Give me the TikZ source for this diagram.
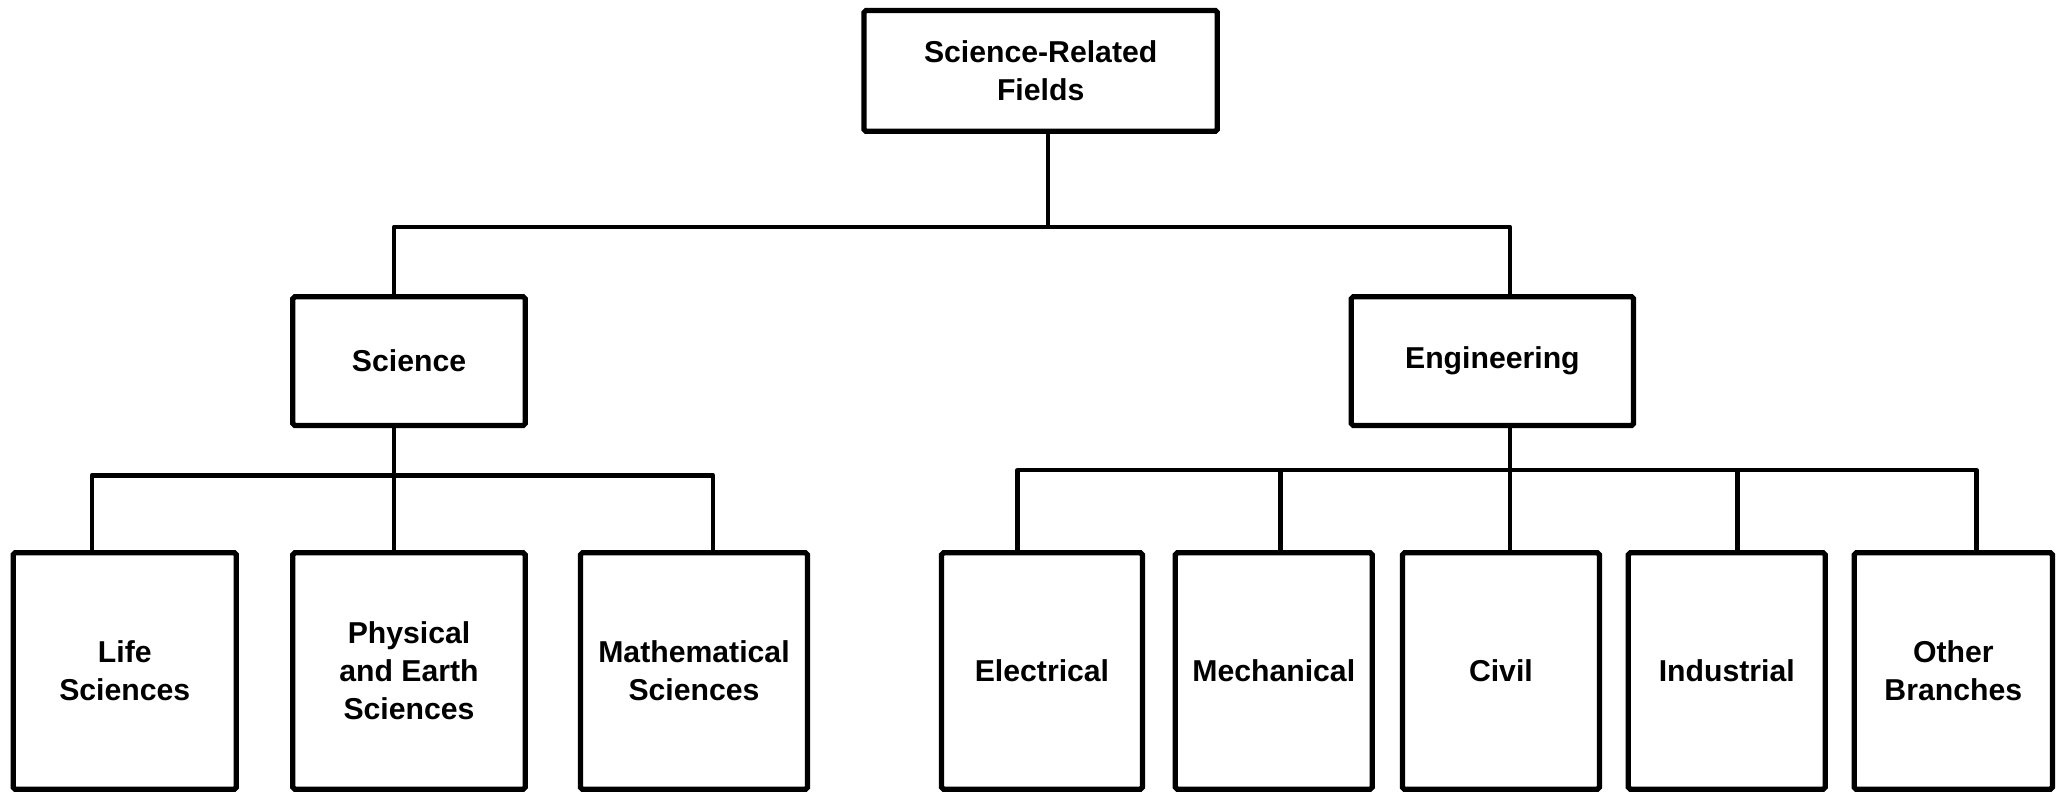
\documentclass[tikz,border=0pt]{standalone}
\usepackage{fontspec}
\setmainfont{Liberation Sans}
\begin{document}
\begin{tikzpicture}[x=1pt,y=1pt,
  box/.style={draw=black, line width=4pt, rounded corners=1.5pt, fill=white,
    inner sep=0pt, align=center,
    font=\bfseries\fontsize{23}{29}\selectfont},
  conn/.style={draw=black, line width=3.5pt, line join=round}]
\useasboundingbox (0,0) rectangle (1568,-605);
\fill[white] (0,0) rectangle (1568,-605);
% top level
\node[box, minimum width=269pt, minimum height=92pt] (top) at (792.5,-54) {Science-Related\\Fields};
% second level
\node[box, minimum width=177pt, minimum height=98pt] (science) at (311.5,-275) {Science};
\node[box, minimum width=215pt, minimum height=98pt] (engineering) at (1136.5,-275) {Engineering};
% third level
\node[box, minimum width=170pt, minimum height=180pt] (life) at (95,-511) {Life\\Sciences};
\node[box, minimum width=177pt, minimum height=180pt] (phys) at (311.5,-511) {Physical\\and Earth\\Sciences};
\node[box, minimum width=173pt, minimum height=180pt] (math) at (528.5,-511) {Mathematical\\Sciences};
\node[box, minimum width=153pt, minimum height=180pt] (elec) at (793.5,-511) {Electrical};
\node[box, minimum width=150pt, minimum height=180pt] (mech) at (970,-511) {Mechanical};
\node[box, minimum width=150pt, minimum height=180pt] (civil) at (1143,-511) {Civil};
\node[box, minimum width=150pt, minimum height=180pt] (indus) at (1315,-511) {Industrial};
\node[box, minimum width=151pt, minimum height=180pt] (other) at (1487.5,-511) {Other\\Branches};
% bus junctions
\coordinate (tM) at (798,-173);
\coordinate (tL) at (300,-173);
\coordinate (tR) at (1150,-173);
\coordinate (s1) at (70,-362);
\coordinate (s2) at (300,-362);
\coordinate (s3) at (543,-362);
\coordinate (e1) at (775,-358);
\coordinate (e2) at (975,-358);
\coordinate (e3) at (1150,-358);
\coordinate (e4) at (1323,-358);
\coordinate (e5) at (1505,-358);
% connectors
\draw[conn] (top.south -| tM) -- (tM);
\draw[conn] (science.north -| tL) -- (tL) -- (tR) -- (engineering.north -| tR);
\draw[conn] (life.north -| s1) -- (s1) -- (s3) -- (math.north -| s3);
\draw[conn] (science.south -| s2) -- (phys.north -| s2);
\draw[conn] (elec.north -| e1) -- (e1) -- (e5) -- (other.north -| e5);
\draw[conn] (engineering.south -| e3) -- (civil.north -| e3);
\draw[conn] (e2) -- (mech.north -| e2);
\draw[conn] (e4) -- (indus.north -| e4);
\end{tikzpicture}
\end{document}
